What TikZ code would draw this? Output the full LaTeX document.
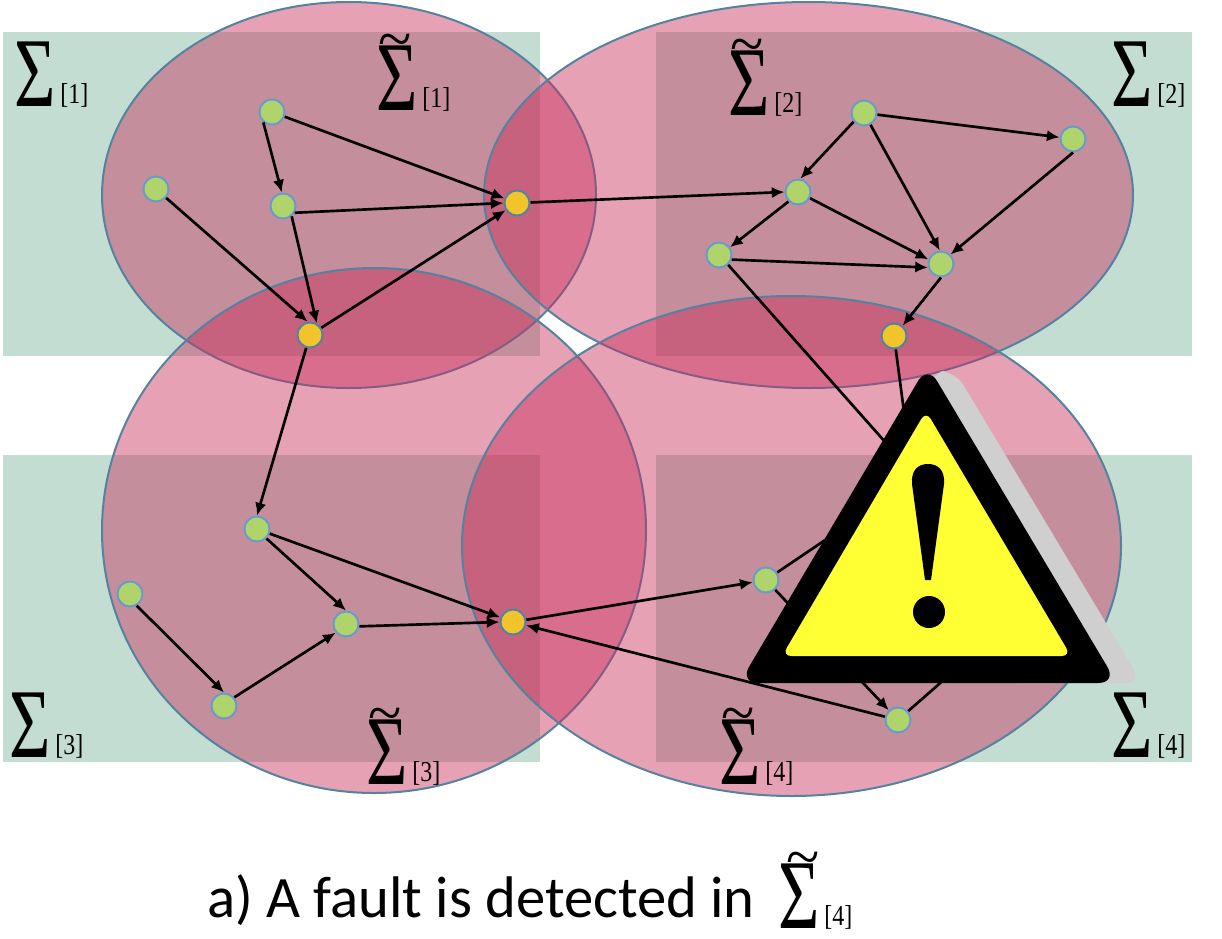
\documentclass[tikz,border=0pt]{standalone}
\usepackage{amsmath, amssymb}
\usepackage{fontspec}
\setmainfont{Liberation Serif}
\newfontfamily\capfont{Carlito}
\usepackage{tikz}
\usetikzlibrary{positioning, arrows.meta}

\definecolor{patchgreen}{HTML}{C4DDD2}
\definecolor{blobpink}{HTML}{C82E5B}
\definecolor{blobline}{HTML}{54829F}
\definecolor{nodeline}{HTML}{6A9BC8}
\definecolor{nodegreen}{HTML}{AFD46B}
\definecolor{nodeorange}{HTML}{F2C42C}
\definecolor{signyellow}{HTML}{FFFF33}
\definecolor{signgray}{HTML}{CFCFCF}

\newcommand{\bigsigma}{\scalebox{0.72}[1]{\fontsize{74}{74}\selectfont Σ}}
\newcommand{\subsys}[1]{\bigsigma\hspace{3.5pt}\raisebox{2pt}{\scalebox{1}[1.2]{\fontsize{18}{18}\selectfont[#1]}}}
\newcommand{\tsubsys}[2][1.5pt]{\makebox[0pt][l]{\hspace{#1}\raisebox{38pt}{\fontsize{46}{46}\selectfont\~{}}}\subsys{#2}}

\begin{document}
\begin{tikzpicture}[
    x=0.75pt, y=-0.75pt,
    patch/.style={fill=patchgreen},
    blob/.style={draw=blobline, line width=1.5pt, fill=blobpink, fill opacity=0.45},
    agent/.style={circle, draw=nodeline, line width=1.5pt, fill=nodegreen,
      minimum size=18.8pt, inner sep=0pt},
    border/.style={agent, draw=blobline, fill=nodeorange},
    arrow/.style={-{Latex[length=9.5pt, width=8.5pt]}, line width=2pt, black},
    wire/.style={line width=2pt, black},
    lab/.style={inner sep=0pt, anchor=base west},
    captext/.style={inner sep=0pt, anchor=base west, font=\capfont\fontsize{44}{44}\selectfont}
  ]
    \useasboundingbox (0,0) rectangle (1222,939);

    % subsystems
    \fill[patch] (3,32) rectangle (540,356);
    \fill[patch] (656,32) rectangle (1192,356);
    \fill[patch] (3,455) rectangle (540,762);
    \fill[patch] (656,455) rectangle (1192,762);

    % overlapping regions
    \draw[blob] (349,195) ellipse [x radius=247, y radius=193];
    \draw[blob] (808.5,195) ellipse [x radius=324.5, y radius=193];
    \draw[blob] (374,530.5) ellipse [x radius=272, y radius=262.5];
    \draw[blob] (791.5,546) ellipse [x radius=329.5, y radius=250];

    % agents
    \node[agent] (a1) at (272,112) {};
    \node[agent] (a2) at (156,189) {};
    \node[agent] (a3) at (283,206) {};
    \node[border] (o1) at (517,203) {};
    \node[border] (o2) at (310,335) {};
    \node[agent] (b1) at (864,113) {};
    \node[agent] (b2) at (1073,139) {};
    \node[agent] (b3) at (798,192) {};
    \node[agent] (b4) at (719,255) {};
    \node[agent] (b5) at (941,264) {};
    \node[border] (o3) at (894,336) {};
    \node[agent] (c1) at (257,529) {};
    \node[agent] (c2) at (130,594) {};
    \node[agent] (c3) at (346,624) {};
    \node[agent] (c4) at (224,706) {};
    \node[border] (o4) at (513,622) {};
    \node[agent] (d1) at (766,580) {};
    \node[agent] (d2) at (898,720) {};

    % ends hidden by the sign
    \coordinate (h1) at (915,495);
    \coordinate (h2) at (925,487);
    \coordinate (h3) at (880,503);
    \coordinate (h4) at (970,657);

    \draw[arrow] (a1) -- (o1);
    \draw[arrow] (a1.230) -- (a3.95);
    \draw[arrow] (a2) -- (o2.100);
    \draw[arrow] (a3.-30) -- (o1.180);
    \draw[arrow] (a3.-50) -- (o2.60);
    \draw[arrow] (o2) -- (o1);
    \draw[arrow] (o1) -- (b3.180);
    \draw[arrow] (b1) -- (b2);
    \draw[arrow] (b1.220) -- (b3.80);
    \draw[arrow] (b1) -- (b5.95);
    \draw[arrow] (b3.-135) -- (b4.35);
    \draw[arrow] (b3) -- (b5.160);
    \draw[arrow] (b4.-20) -- (b5.195);
    \draw[arrow] (b2.-90) -- (b5.45);
    \draw[arrow] (b5.-90) -- (o3.50);
    \draw[arrow] (o2) -- (c1.90);
    \draw[arrow] (c1.-45) -- (c3.90);
    \draw[arrow] (c1) -- (o4);
    \draw[arrow] (c2.-60) -- (c4.90);
    \draw[arrow] (c4.40) -- (c3.-140);
    \draw[arrow] (c3.-10) -- (o4.180);
    \draw[arrow] (o4) -- (d1);
    \draw[arrow] (d1) -- (d2);
    \draw[arrow] (d2) -- (o4);
    \draw[wire] (o3) -- (h1);
    \draw[wire] (b4.-47) -- (h2);
    \draw[wire] (d1) -- (h3);
    \draw[wire] (d2) -- (h4);

    % warning sign
    \fill[signgray, rounded corners=12pt] (930,371) -- (955,371) -- (1142,683) -- (1000,683) -- cycle;
    \fill[black, rounded corners=14pt] (927.5,365) -- (1117,683) -- (739.5,683) -- cycle;
    \fill[signyellow, rounded corners=7pt] (926,411) -- (1071,656) -- (782,656) -- cycle;
    \fill[black] (925,580) -- (912,484) .. controls (911,470) and (918,464) .. (928,464)
      .. controls (938,464) and (945,470) .. (944,484) -- (931,580) -- cycle;
    \fill[black] (929,612) circle [radius=16];

    % labels
    \node[lab] (s1) at (14,106) {\subsys{1}};
    \node[lab] (s2) at (1111,106) {\subsys{2}};
    \node[lab] (s3) at (9,757) {\subsys{3}};
    \node[lab] (s4) at (1111,757) {\subsys{4}};
    \node[lab] (t1) at (376,110) {\tsubsys{1}};
    \node[lab] (t2) at (728,115) {\tsubsys{2}};
    \node[lab] (t3) at (366,784) {\tsubsys{3}};
    \node[lab] (t4) at (719,784) {\tsubsys{4}};
    \node[captext] (txt) at (207,917) {a) A fault is detected in};
    \node[lab] (t5) at (778,928) {\tsubsys[6pt]{4}};
  \end{tikzpicture}
\end{document}
